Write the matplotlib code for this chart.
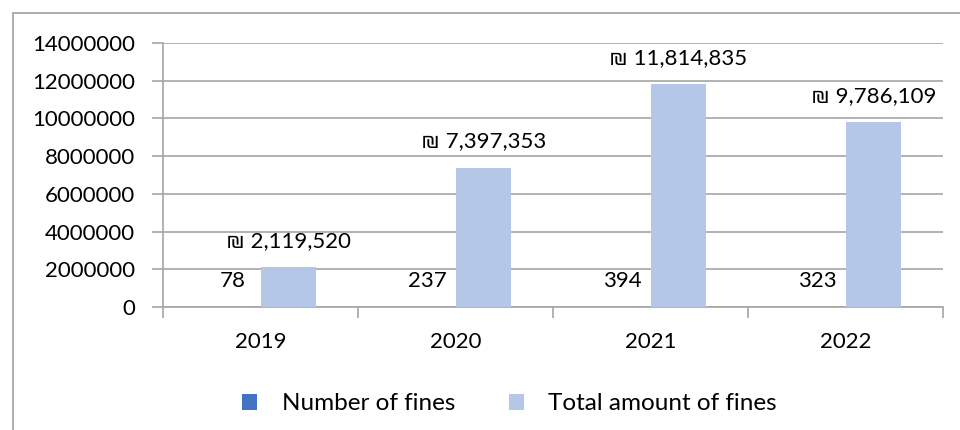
import matplotlib
matplotlib.use("Agg")
import matplotlib.pyplot as plt
from matplotlib.patches import Rectangle
import numpy as np

years = ["2019", "2020", "2021", "2022"]
num_fines = [78, 237, 394, 323]
total_fines = [2119520, 7397353, 11814835, 9786109]
yticks = [0, 2000000, 4000000, 6000000, 8000000, 10000000, 12000000, 14000000]

plt.rcParams['font.family'] = ['Lato', 'DejaVu Sans']
FS = 16
W, H = 960, 430
fig = plt.figure(figsize=(W / 100, H / 100), dpi=100)

# outer chart border
fig.patches.append(Rectangle((13 / W, -0.05), 1.2, 1 - 13 / H + 0.05, transform=fig.transFigure,
                             fill=False, edgecolor='#A0A0A0', linewidth=1.2))

left, right, top, bottom = 163, 943, 43, 307
ax = fig.add_axes([left / W, 1 - bottom / H, (right - left) / W, (bottom - top) / H])

x = np.arange(len(years))
w = 0.287
b1 = ax.bar(x - w / 2, num_fines, w, color='#4472C4', label='Number of fines', zorder=3)
b2 = ax.bar(x + w / 2, total_fines, w, color='#B4C7E7', label='Total amount of fines', zorder=3)

for xi, v in zip(x - w / 2, num_fines):
    ax.annotate(f"{v}", (xi, v), xytext=(0, 19), textcoords='offset points',
                ha='center', va='center', fontsize=FS)
for xi, v in zip(x + w / 2, total_fines):
    ax.annotate(f"₪ {v:,}", (xi, v), xytext=(0, 19), textcoords='offset points',
                ha='center', va='center', fontsize=FS)

ax.set_xlim(-0.5, 3.5)
ax.set_ylim(0, 14000000)
ax.set_yticks(yticks)
ax.set_yticklabels([str(t) for t in yticks])
ax.yaxis.grid(True, color='#A6A6A6', linewidth=1.2, zorder=0)
ax.set_axisbelow(True)

ax.set_xticks(x)
ax.set_xticklabels(years)
ax.set_xticks(np.arange(-0.5, 4.0, 1.0), minor=True)
ax.tick_params(axis='x', which='major', length=0, pad=18, labelsize=FS)
ax.tick_params(axis='x', which='minor', length=8, color='#A6A6A6', width=1.2)
ax.tick_params(axis='y', which='major', length=8, color='#A6A6A6', width=1.2, pad=12, labelsize=FS)

for s in ['top', 'right']:
    ax.spines[s].set_visible(False)
for s in ['left', 'bottom']:
    ax.spines[s].set_color('#A6A6A6')
    ax.spines[s].set_linewidth(1.2)

fig.legend(handles=[b1, b2], labels=['Number of fines', 'Total amount of fines'],
           loc='center', bbox_to_anchor=(509.5 / W, 1 - 404 / H), ncol=2, frameon=False,
           fontsize=17.5, handlelength=0.62, handleheight=0.62, handletextpad=1.0, columnspacing=2.2)

fig.savefig("out.png", dpi=100)
